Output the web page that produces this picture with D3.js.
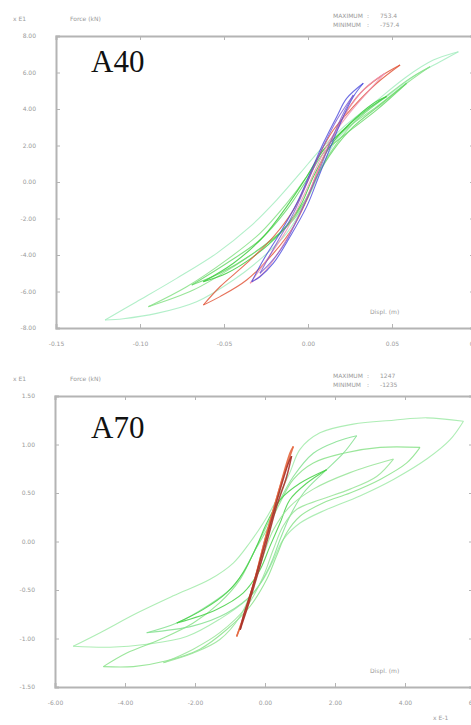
<!DOCTYPE html>
<html>
<head>
<meta charset="utf-8">
<script src="https://cdn.jsdelivr.net/npm/d3@7"></script>
<style>
  body { margin: 0; background: #fff; }
  svg { display: block; }
  .axis path, .axis line { stroke: #b4b4b4; }
  .axis path { stroke-width: 2; }
  .axis text { font-family: "DejaVu Sans", sans-serif; font-size: 6px; fill: #9a9a9a; }
  .small { font-family: "DejaVu Sans", sans-serif; font-size: 6px; fill: #9a9a9a; }
  .title { font-family: "Liberation Serif", serif; font-size: 31px; fill: #111; }
</style>
</head>
<body>
<svg id="chart" width="471" height="725"></svg>
<script>
// tick values for both panels
var a40XTicks = [-0.15, -0.10, -0.05, 0.00, 0.05, 0.10];
var a40YTicks = [8, 6, 4, 2, 0, -2, -4, -6, -8];
var a70XTicks = [-6, -4, -2, 0, 2, 4, 6];
var a70YTicks = [1.5, 1.0, 0.5, 0, -0.5, -1.0, -1.5];

// header texts
var a40Stats = [['MAXIMUM', ':', '753.4'], ['MINIMUM', ':', '-757.4']];
var a70Stats = [['MAXIMUM', ':', '1247'], ['MINIMUM', ':', '-1235']];

// A40 loops, [drift, force], each loop starts at its negative peak,
// runs up to the positive peak and comes back down
var a40Green = [
  [[-0.1208,-7.56],[-0.1020,-6.56],[-0.0782,-5.28],[-0.0544,-3.91],[-0.0345,-2.45],[-0.0187,-0.99],[-0.0048,0.47],[0.0071,1.75],[0.0210,3.00],[0.0389,4.31],[0.0587,5.77],[0.0746,6.68],[0.0895,7.14],
   [0.0786,6.59],[0.0627,5.77],[0.0468,4.68],[0.0310,3.58],[0.0171,2.30],[0.0091,1.02],[0.0032,-0.26],[-0.0038,-1.53],[-0.0127,-2.81],[-0.0266,-4.09],[-0.0444,-5.37],[-0.0663,-6.56],[-0.0901,-7.20],[-0.1099,-7.49]],
  [[-0.0950,-6.83],[-0.0722,-5.74],[-0.0484,-4.27],[-0.0286,-2.81],[-0.0127,-1.17],[-0.0008,0.29],[0.0091,1.75],[0.0230,2.94],[0.0409,4.13],[0.0587,5.41],[0.0726,6.32],
   [0.0607,5.68],[0.0448,4.58],[0.0290,3.40],[0.0171,2.12],[0.0071,0.66],[0.0002,-0.80],[-0.0087,-2.08],[-0.0246,-3.36],[-0.0444,-4.64],[-0.0683,-5.92]],
  [[-0.0692,-5.64],[-0.0484,-4.45],[-0.0286,-3.18],[-0.0127,-1.53],[-0.0008,0.11],[0.0091,1.57],[0.0230,2.67],[0.0409,3.95],[0.0587,5.41],
   [0.0429,4.22],[0.0270,3.03],[0.0151,1.75],[0.0052,0.29],[-0.0028,-1.17],[-0.0147,-2.63],[-0.0325,-3.91],[-0.0524,-5.00]],
  [[-0.0623,-5.46],[-0.0444,-4.45],[-0.0266,-3.00],[-0.0127,-1.35],[-0.0008,0.29],[0.0091,1.75],[0.0210,2.85],[0.0349,3.95],[0.0468,4.68],
   [0.0389,4.31],[0.0250,3.21],[0.0131,1.94],[0.0032,0.29],[-0.0048,-1.35],[-0.0167,-2.81],[-0.0325,-4.09],[-0.0484,-5.00]]
];
var a40Red = [
  [[-0.0623,-6.74],[-0.0524,-5.74],[-0.0365,-4.45],[-0.0206,-3.00],[-0.0087,-1.53],[-0.0008,-0.07],[0.0061,1.39],[0.0151,2.85],[0.0270,4.13],[0.0409,5.41],[0.0548,6.41],
   [0.0429,5.77],[0.0310,4.86],[0.0210,3.58],[0.0131,2.12],[0.0052,0.47],[-0.0008,-0.99],[-0.0087,-2.45],[-0.0206,-3.91],[-0.0365,-5.37],[-0.0524,-6.28]],
  [[-0.0345,-5.55],[-0.0246,-4.27],[-0.0127,-2.63],[-0.0028,-0.80],[0.0052,0.84],[0.0131,2.30],[0.0230,3.58],[0.0349,4.86],[0.0458,5.96],
   [0.0349,5.22],[0.0250,4.13],[0.0171,2.85],[0.0091,1.39],[0.0012,-0.44],[-0.0067,-2.08],[-0.0167,-3.73],[-0.0266,-5.00]]
];
var a40Blue = [
  [[-0.0335,-5.46],[-0.0266,-4.27],[-0.0167,-2.81],[-0.0067,-1.17],[0.0012,0.47],[0.0091,2.12],[0.0171,3.58],[0.0230,4.58],[0.0329,5.41],
   [0.0270,4.68],[0.0210,3.58],[0.0151,2.30],[0.0071,0.47],[-0.0008,-1.35],[-0.0107,-3.00],[-0.0206,-4.45],[-0.0286,-5.19]],
  [[-0.0286,-5.00],[-0.0187,-3.36],[-0.0087,-1.72],[0.0002,0.11],[0.0091,1.94],[0.0171,3.40],[0.0270,4.77],
   [0.0210,3.76],[0.0131,2.12],[0.0052,0.29],[-0.0038,-1.53],[-0.0137,-3.36],[-0.0226,-4.45]]
];

// A70 loops
var a70Green = [
  [[-5.48,-1.08],[-4.71,-0.94],[-3.67,-0.74],[-2.62,-0.56],[-1.57,-0.39],[-0.90,-0.22],[-0.43,-0.01],[-0.05,0.19],[0.33,0.43],[0.71,0.71],[1.00,0.95],[1.57,1.12],[2.52,1.21],[3.67,1.25],[4.62,1.275],[5.67,1.24],
   [5.29,1.05],[4.62,0.85],[3.67,0.64],[2.71,0.47],[1.76,0.33],[1.00,0.19],[0.52,0.02],[0.24,-0.19],[-0.05,-0.39],[-0.52,-0.60],[-1.29,-0.80],[-2.24,-0.98],[-3.38,-1.06],[-4.43,-1.09]],
  [[-4.62,-1.29],[-3.95,-1.15],[-3.00,-1.01],[-2.05,-0.84],[-1.29,-0.63],[-0.71,-0.39],[-0.33,-0.12],[0.05,0.12],[0.43,0.40],[0.81,0.64],[1.38,0.81],[2.24,0.91],[3.29,0.97],[4.43,0.97],
   [4.05,0.81],[3.29,0.64],[2.43,0.50],[1.67,0.40],[1.00,0.26],[0.62,0.09],[0.33,-0.15],[0.05,-0.39],[-0.43,-0.67],[-1.10,-0.91],[-1.86,-1.11],[-2.81,-1.23],[-3.76,-1.29]],
  [[-3.38,-0.94],[-2.52,-0.84],[-1.67,-0.67],[-0.90,-0.46],[-0.43,-0.19],[-0.05,0.09],[0.33,0.36],[0.81,0.67],[1.38,0.91],[2.05,1.03],[2.62,1.09],
   [2.24,0.91],[1.67,0.71],[1.10,0.50],[0.71,0.26],[0.43,0.02],[0.14,-0.25],[-0.33,-0.53],[-1.10,-0.74],[-2.05,-0.87]],
  [[-2.52,-0.84],[-1.76,-0.70],[-1.10,-0.53],[-0.62,-0.32],[-0.24,-0.05],[0.05,0.19],[0.43,0.43],[1.00,0.60],[1.76,0.74],
   [1.19,0.60],[0.71,0.43],[0.43,0.19],[0.14,-0.05],[-0.14,-0.29],[-0.62,-0.53],[-1.38,-0.70]],
  [[-2.90,-1.25],[-2.05,-1.15],[-1.29,-1.01],[-0.71,-0.77],[-0.33,-0.46],[-0.05,-0.15],[0.24,0.12],[0.71,0.36],[1.38,0.54],[2.43,0.71],[3.67,0.85],
   [3.19,0.67],[2.43,0.54],[1.57,0.43],[0.90,0.33],[0.52,0.16],[0.24,-0.08],[-0.05,-0.36],[-0.52,-0.67],[-1.29,-0.94],[-2.05,-1.11]]
];
var a70Red = [
  [[-0.81,-0.98],[-0.52,-0.67],[-0.24,-0.32],[0.00,0.02],[0.24,0.33],[0.52,0.67],[0.81,0.98],
   [0.71,0.91],[0.43,0.57],[0.19,0.26],[-0.05,-0.05],[-0.29,-0.39],[-0.57,-0.74]],
  [[-0.71,-0.91],[-0.43,-0.60],[-0.14,-0.25],[0.10,0.06],[0.33,0.36],[0.62,0.67],[0.76,0.88],
   [0.67,0.81],[0.38,0.47],[0.14,0.16],[-0.10,-0.15],[-0.38,-0.50],[-0.62,-0.77]]
];

var svg = d3.select('#chart');

function fmt (v) {
  return v.toFixed(2);
}

//Cut a loop at its right-most point so both peaks stay sharp.
function branches (loop) {
  var peak = d3.maxIndex(loop, function (d) { return d[0]; });
  return [loop.slice(0, peak + 1), loop.slice(peak).concat([loop[0]])];
}

function drawPanel (p) {
  var x = d3.scaleLinear().domain(p.xDomain).range([p.left, p.right]);
  var y = d3.scaleLinear().domain(p.yDomain).range([p.bottom, p.top]);
  var g = svg.append('g');

  // header row
  g.append('text').attr('class', 'small').attr('x', 13).attr('y', p.top - 15).text('x E1');
  g.append('text').attr('class', 'small').attr('x', 70).attr('y', p.top - 15).text('Force (kN)');
  for (var i = 0; i < p.stats.length; i++) {
    g.append('text').attr('class', 'small').attr('x', 333).attr('y', p.top - 18 + i * 9).text(p.stats[i][0]);
    g.append('text').attr('class', 'small').attr('x', 367).attr('y', p.top - 18 + i * 9).text(p.stats[i][1]);
    g.append('text').attr('class', 'small').attr('x', 380).attr('y', p.top - 18 + i * 9).text(p.stats[i][2]);
  }

  // frame with inward ticks
  g.append('g').attr('class', 'axis')
    .attr('transform', 'translate(0,' + p.bottom + ')')
    .call(d3.axisBottom(x).tickValues(p.xTicks).tickSize(-4).tickPadding(14).tickFormat(fmt));
  g.append('g').attr('class', 'axis')
    .attr('transform', 'translate(' + p.left + ',0)')
    .call(d3.axisLeft(y).tickValues(p.yTicks).tickSize(-4).tickPadding(20).tickFormat(fmt));
  g.append('g').attr('class', 'axis')
    .attr('transform', 'translate(0,' + p.top + ')')
    .call(d3.axisTop(x).tickValues(p.xTicks).tickSize(-4).tickFormat(''));
  g.append('g').attr('class', 'axis')
    .attr('transform', 'translate(' + p.right + ',0)')
    .call(d3.axisRight(y).tickValues(p.yTicks).tickSize(-6).tickFormat(''));

  var line = d3.line()
    .x(function (d) { return x(d[0]); })
    .y(function (d) { return y(d[1]); })
    .curve(d3.curveCatmullRom.alpha(0.5));

  for (var k = 0; k < p.series.length; k++) {
    var s = p.series[k];
    for (var j = 0; j < s.loops.length; j++) {
      g.selectAll(null).data(branches(s.loops[j])).enter().append('path')
        .attr('d', line)
        .attr('fill', 'none')
        .attr('stroke', s.colors[j % s.colors.length])
        .attr('stroke-width', s.width)
        .attr('stroke-opacity', s.opacity)
        .attr('stroke-linejoin', 'round');
    }
  }

  g.append('text').attr('class', 'title').attr('x', 91).attr('y', p.titleY).text(p.title);
  g.append('text').attr('class', 'small').attr('x', 370).attr('y', p.bottom - 14).text('Displ. (m)');
}

drawPanel({
  title: 'A40', titleY: 72,
  left: 56, right: 476, top: 36, bottom: 328,
  xDomain: [-0.15, 0.10], yDomain: [-8, 8],
  xTicks: a40XTicks, yTicks: a40YTicks, stats: a40Stats,
  series: [
    {loops: a40Green, colors: ['#a4ecc0', '#86e086', '#6ad86a', '#3ccc3c'], width: 1.1, opacity: 0.85},
    {loops: a40Red, colors: ['#e2583c', '#ee92b0'], width: 1.1, opacity: 0.85},
    {loops: a40Blue, colors: ['#4848dc', '#7a5ad0'], width: 1.1, opacity: 0.8}
  ]
});

drawPanel({
  title: 'A70', titleY: 438,
  left: 55, right: 475, top: 396, bottom: 687,
  xDomain: [-6, 6], yDomain: [-1.5, 1.5],
  xTicks: a70XTicks, yTicks: a70YTicks, stats: a70Stats,
  series: [
    {loops: a70Green, colors: ['#a0eaa8', '#8ae28a', '#84e090', '#44d044', '#96e496'], width: 1.1, opacity: 0.85},
    {loops: a70Red, colors: ['#e46a44', '#a8322a'], width: 1.5, opacity: 0.9}
  ]
});

svg.append('text').attr('class', 'small').attr('x', 433).attr('y', 720).text('x E-1');
</script>
</body>
</html>
